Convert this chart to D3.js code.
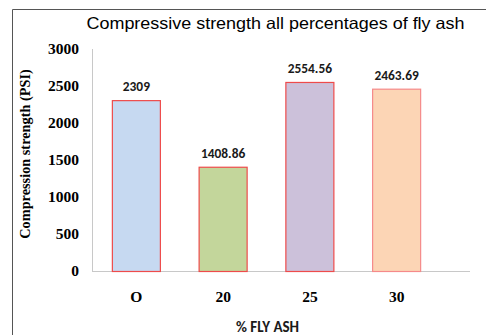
<!DOCTYPE html>
<html><head><meta charset="utf-8">
<script src="https://cdn.jsdelivr.net/npm/d3@7"></script>
<style>body{margin:0;background:#fff}svg{display:block}</style>
</head><body>
<svg id="c" width="486" height="335"></svg>
<script>
const categories = ["O", "20", "25", "30"];
const values = [2309, 1408.86, 2554.56, 2463.69];
const valueLabels = ["2309", "1408.86", "2554.56", "2463.69"];
const yTicks = [0, 500, 1000, 1500, 2000, 2500, 3000];
const fills = ["#c6d9f1", "#c3d69b", "#ccc1da", "#fcd5b5"];
const strokes = ["#ee4b4b", "#ee4b4b", "#ee4b4b", "#f58a8a"];

const serif = "'Liberation Serif', 'Times New Roman', serif";
const sans = "Carlito, 'Open Sans', 'Liberation Sans', sans-serif";

const svg = d3.select("#c");
svg.append("path").attr("d", "M12.5,335 V9.5 H486").attr("fill", "none").attr("stroke", "#555").attr("stroke-width", 1);

const y = d3.scaleLinear().domain([0, 3000]).range([271, 49]);
const x = d3.scaleBand().domain(categories).range([93, 440]).paddingInner(0.435).paddingOuter(0.2175);

svg.append("line").attr("x1", 92.5).attr("x2", 92.5).attr("y1", y(3000)).attr("y2", y(0)).attr("stroke", "#c8c8c8");
svg.append("line").attr("x1", 92).attr("x2", 470).attr("y1", y(0) + 0.5).attr("y2", y(0) + 0.5).attr("stroke", "#c8c8c8").attr("stroke-width", 1.2);

const yAxis = d3.axisLeft(y).tickValues(yTicks).tickSize(0).tickPadding(13).tickFormat(d3.format("d"));
const ga = svg.append("g").attr("transform", "translate(92,0)").call(yAxis);
ga.select(".domain").remove();
ga.attr("font-family", null).attr("font-size", null);
ga.selectAll("text").style("font-family", serif).style("font-weight", "bold").style("font-size", "15.5px").attr("fill", "#000");

const xAxis = d3.axisBottom(x).tickSize(0).tickPadding(20);
const gx = svg.append("g").attr("transform", `translate(0,${y(0)})`).call(xAxis);
gx.select(".domain").remove();
gx.attr("font-family", null).attr("font-size", null);
gx.selectAll("text").style("font-family", serif).style("font-weight", "bold").style("font-size", "15.5px").attr("fill", "#000");

svg.selectAll("rect.bar").data(values).enter().append("rect").attr("class", "bar")
  .attr("x", (d, i) => x(categories[i]) + 0.5)
  .attr("y", d => y(d) + 0.5)
  .attr("width", x.bandwidth() - 1)
  .attr("height", d => y(0) - y(d))
  .attr("fill", (d, i) => fills[i])
  .attr("stroke", (d, i) => strokes[i]).attr("stroke-width", 1.2);

svg.selectAll("text.vl").data(values).enter().append("text").attr("class", "vl")
  .attr("x", (d, i) => x(categories[i]) + x.bandwidth() / 2)
  .attr("y", d => y(d) - 9)
  .attr("text-anchor", "middle")
  .style("font-family", sans).style("font-weight", "bold").style("font-size", "13.4px").attr("fill", "#1a1a1a")
  .text((d, i) => valueLabels[i]);

svg.append("text").attr("x", 275.5).attr("y", 29).attr("text-anchor", "middle")
  .style("font-family", "'Liberation Sans', Arial, sans-serif").style("font-size", "16.5px").attr("fill", "#000")
  .attr("textLength", 378).attr("lengthAdjust", "spacingAndGlyphs")
  .text("Compressive strength all percentages of fly ash");

svg.append("text").attr("transform", "translate(30,154) rotate(-90)").attr("text-anchor", "middle")
  .style("font-family", serif).style("font-weight", "bold").style("font-size", "14.3px").attr("fill", "#000")
  .text("Compression strength (PSI)");

svg.append("text").attr("x", 267.5).attr("y", 332).attr("text-anchor", "middle")
  .style("font-family", sans).style("font-weight", "bold").style("font-size", "15px").attr("fill", "#1a1a1a")
  .text("% FLY ASH");
</script>
</body></html>
